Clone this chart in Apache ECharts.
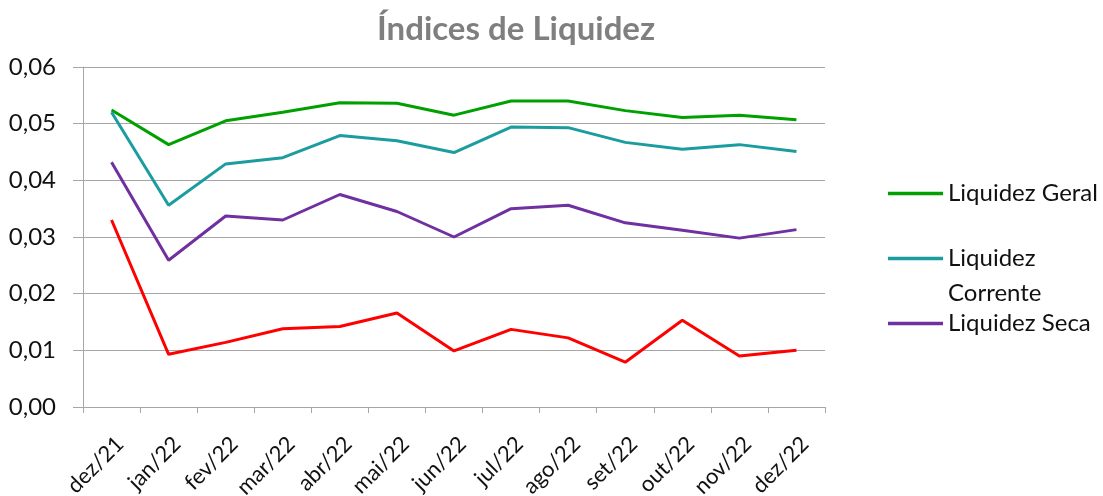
<!DOCTYPE html>
<html>
<head>
<meta charset="utf-8">
<script src="https://cdn.jsdelivr.net/npm/echarts@6/dist/echarts.min.js"></script>
<style>html,body{margin:0;padding:0;background:#fff}#c{width:1103px;height:496px}</style>
</head>
<body>
<div id="c"></div>
<script>
const categories = ['dez/21','jan/22','fev/22','mar/22','abr/22','mai/22','jun/22','jul/22','ago/22','set/22','out/22','nov/22','dez/22'];
const liquidezGeral    = [0.0524,0.0463,0.0505,0.0520,0.0537,0.0536,0.0515,0.0540,0.0540,0.0523,0.0511,0.0515,0.0507];
const liquidezCorrente = [0.0520,0.0356,0.0429,0.0440,0.0479,0.0470,0.0449,0.0494,0.0493,0.0467,0.0455,0.0463,0.0451];
const liquidezSeca     = [0.0432,0.0259,0.0337,0.0330,0.0375,0.0345,0.0300,0.0350,0.0356,0.0325,0.0312,0.0298,0.0313];
const liquidezImediata = [0.0330,0.0093,0.0114,0.0138,0.0142,0.0166,0.0099,0.0137,0.0122,0.0079,0.0153,0.0090,0.0100];
const yTicks = [0,0.01,0.02,0.03,0.04,0.05,0.06];

const FONT = 'Lato';
const FS = 24;
const chart = echarts.init(document.getElementById('c'));
const legendText = {fontFamily: FONT, fontSize: FS, color: '#111', lineHeight: 35};
function mkLegend(name, top, extra) {
  return Object.assign({
    data: [name], left: 883, top: top, orient: 'vertical',
    icon: 'path://M0,0 L60,0 L60,4 L0,4 Z', itemWidth: 55, itemHeight: 4, itemGap: 4,
    textStyle: Object.assign({}, legendText), selectedMode: false
  }, extra || {});
}
chart.setOption({
  animation: false,
  title: {
    text: 'Índices de Liquidez', left: 372, top: 8,
    textStyle: {fontFamily: FONT, fontSize: 33, fontWeight: 'bold', color: '#7f7f7f'}
  },
  legend: [
    mkLegend('Liquidez Geral', 171),
    mkLegend('Liquidez Corrente', 201, {formatter: () => '\u00a0\nLiquidez\nCorrente'}),
    mkLegend('Liquidez Seca', 301)
  ],
  grid: {left: 83, right: 278, top: 67, bottom: 89, containLabel: false, outerBoundsMode: 'none'},
  xAxis: {
    type: 'category', data: categories, boundaryGap: true,
    axisLine: {lineStyle: {color: '#a6a6a6', width: 1}},
    axisTick: {show: true, alignWithLabel: false, length: 6, lineStyle: {color: '#a6a6a6'}},
    axisLabel: {rotate: 45, fontFamily: FONT, fontSize: 22, color: '#111', margin: 25, interval: 0,
      align: 'right', verticalAlign: 'top', lineHeight: 24}
  },
  yAxis: {
    type: 'value', min: 0, max: 0.06, interval: 0.01,
    axisLine: {show: true, lineStyle: {color: '#a6a6a6', width: 1}},
    axisTick: {show: true, length: 10, lineStyle: {color: '#a6a6a6'}},
    splitLine: {show: true, lineStyle: {color: '#a6a6a6', width: 1}},
    axisLabel: {fontFamily: FONT, fontSize: FS, color: '#111', margin: 27,
      formatter: v => v.toFixed(2).replace('.', ',')}
  },
  series: [
    {name: 'Liquidez Geral', type: 'line', data: liquidezGeral, color: '#00a000', symbol: 'none', lineStyle: {width: 3}},
    {name: 'Liquidez Corrente', type: 'line', data: liquidezCorrente, color: '#1b9c9f', symbol: 'none', lineStyle: {width: 3}},
    {name: 'Liquidez Seca', type: 'line', data: liquidezSeca, color: '#7030a0', symbol: 'none', lineStyle: {width: 3}},
    {name: 'Liquidez Imediata', type: 'line', data: liquidezImediata, color: '#ff0000', symbol: 'none', lineStyle: {width: 3}}
  ]
});
</script>
</body>
</html>
